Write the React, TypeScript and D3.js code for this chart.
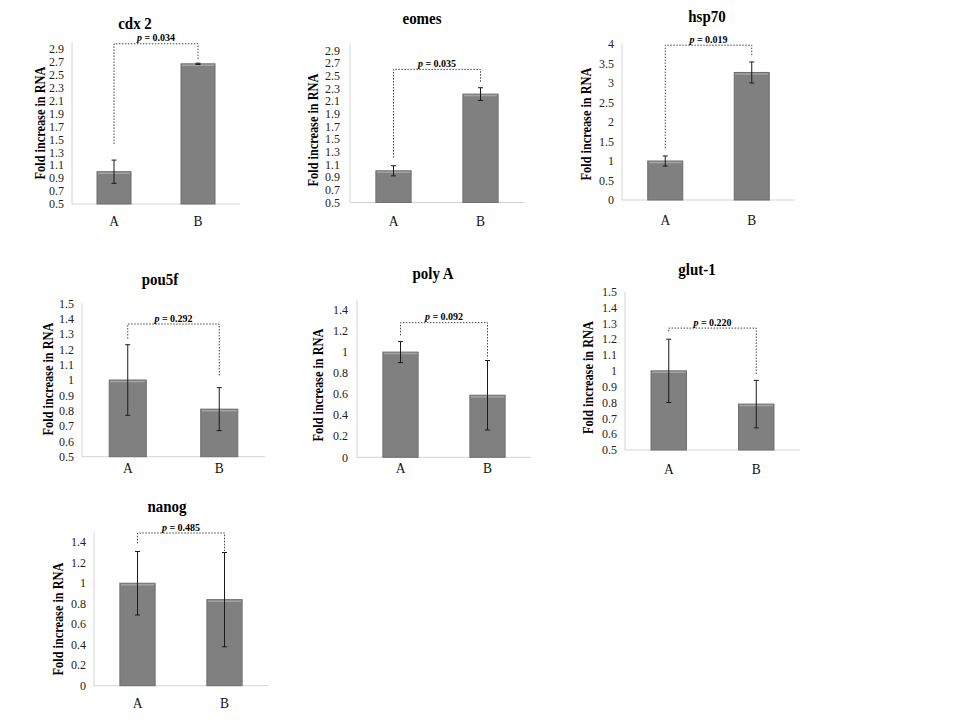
import React from 'react';
import * as d3 from 'd3';

// ---- data ----
const genes = ['cdx 2', 'eomes', 'hsp70', 'pou5f', 'poly A', 'glut-1', 'nanog'];
const groups = ['A', 'B'];
const meanA = [1.0, 1.0, 1.0, 1.0, 1.0, 1.0, 1.0];
const meanB = [2.67, 2.21, 3.27, 0.81, 0.59, 0.79, 0.84];
const errA = [0.18, 0.08, 0.13, 0.23, 0.1, 0.2, 0.31];
const errB = [0.01, 0.1, 0.27, 0.14, 0.33, 0.15, 0.46];
const pValues = ['0.034', '0.035', '0.019', '0.292', '0.092', '0.220', '0.485'];
// bracket: height of the dotted line, and where each leg stops (axis units)
const bracketTop = [2.98, 2.6, 3.97, 1.365, 1.28, 1.27, 1.49];
const bracketLegA = [1.43, 1.21, 1.33, 1.27, 1.16, 1.25, 1.39];
const bracketLegB = [2.73, 2.4, 3.67, 1.02, 0.94, 0.98, 1.315];
const yDomains: [number, number][] = [
  [0.5, 3.0], [0.5, 3.0], [0, 4], [0.5, 1.5], [0, 1.5], [0.5, 1.5], [0, 1.5],
];
const tickLabels = [
  ['0.5', '0.7', '0.9', '1.1', '1.3', '1.5', '1.7', '1.9', '2.1', '2.3', '2.5', '2.7', '2.9'],
  ['0.5', '0.7', '0.9', '1.1', '1.3', '1.5', '1.7', '1.9', '2.1', '2.3', '2.5', '2.7', '2.9'],
  ['0', '0.5', '1', '1.5', '2', '2.5', '3', '3.5', '4'],
  ['0.5', '0.6', '0.7', '0.8', '0.9', '1', '1.1', '1.2', '1.3', '1.4', '1.5'],
  ['0', '0.2', '0.4', '0.6', '0.8', '1', '1.2', '1.4'],
  ['0.5', '0.6', '0.7', '0.8', '0.9', '1', '1.1', '1.2', '1.3', '1.4', '1.5'],
  ['0', '0.2', '0.4', '0.6', '0.8', '1', '1.2', '1.4'],
];
const yTitle = 'Fold increase in RNA';

// ---- panel placement on the page (pixels) ----
interface Layout {
  x0: number; x1: number; yB: number; yT: number;
  titleX: number; titleY: number; catY: number;
  yTitleX: number; yTitleY: number; gap: number;
}
const layouts: Layout[] = [
  { x0: 72, x1: 240, yB: 204, yT: 42.5, titleX: 135, titleY: 29, catY: 225.5, yTitleX: 45, yTitleY: 123, gap: 8 },
  { x0: 350, x1: 524, yB: 202.5, yT: 44, titleX: 422, titleY: 23.5, catY: 226, yTitleX: 317.5, yTitleY: 130, gap: 10 },
  { x0: 622, x1: 795, yB: 200, yT: 44, titleX: 707, titleY: 21.5, catY: 225, yTitleX: 591, yTitleY: 124, gap: 8 },
  { x0: 82, x1: 265, yB: 456.7, yT: 303.3, titleX: 160, titleY: 285, catY: 473, yTitleX: 52.5, yTitleY: 379, gap: 8 },
  { x0: 357, x1: 531, yB: 457.3, yT: 299.5, titleX: 433, titleY: 279, catY: 473, yTitleX: 322.5, yTitleY: 385, gap: 9 },
  { x0: 625, x1: 800, yB: 450, yT: 291.7, titleX: 697, titleY: 275, catY: 474, yTitleX: 592.5, yTitleY: 377.5, gap: 8 },
  { x0: 94, x1: 268, yB: 685.7, yT: 532, titleX: 167, titleY: 512, catY: 708, yTitleX: 63, yTitleY: 619, gap: 8 },
];

const SERIF = "'Liberation Serif', 'Times New Roman', serif";

function Panel( { i }: { i: number } ) {
  const L = layouts[ i ];
  const x = d3.scaleBand<string>()
    .domain( groups )
    .range( [ L.x0, L.x1 ] )
    .paddingInner( 0.595 )
    .paddingOuter( 0.2975 );
  const y = d3.scaleLinear().domain( yDomains[ i ] ).range( [ L.yB, L.yT ] );
  const bw = x.bandwidth();

  const bars = [
    { g: groups[ 0 ], v: meanA[ i ], e: errA[ i ] },
    { g: groups[ 1 ], v: meanB[ i ], e: errB[ i ] },
  ];
  const cx = ( g: string ) => ( x( g ) || 0 ) + bw / 2;
  const xa = cx( groups[ 0 ] );
  const xb = cx( groups[ 1 ] );
  const by = y( bracketTop[ i ] );

  return (
    <g>
      {/* title */}
      <text
        transform={ `translate(${ L.titleX },${ L.titleY }) scale(0.88,1)` }
        textAnchor="middle"
        fontFamily={ SERIF }
        fontWeight="bold"
        fontSize={ 17 }
        fill="#000"
      >
        { genes[ i ] }
      </text>

      {/* axes */}
      <line x1={ L.x0 } x2={ L.x0 } y1={ L.yT } y2={ L.yB } stroke="#d4d4d4" strokeWidth={ 1 } />
      <line x1={ L.x0 } x2={ L.x1 } y1={ L.yB } y2={ L.yB } stroke="#d4d4d4" strokeWidth={ 1 } />

      { tickLabels[ i ].map( t => (
        <text
          key={ t }
          x={ L.x0 - L.gap }
          y={ y( +t ) }
          dy="0.35em"
          textAnchor="end"
          fontFamily={ SERIF }
          fontSize={ 12 }
          fill="#222"
        >
          { t }
        </text>
      ) ) }

      {/* y title */}
      <text
        transform={ `translate(${ L.yTitleX },${ L.yTitleY }) rotate(-90) scale(0.82,1)` }
        textAnchor="middle"
        fontFamily={ SERIF }
        fontWeight="bold"
        fontSize={ 15 }
        fill="#000"
      >
        { yTitle }
      </text>

      {/* bars */}
      { bars.map( b => {
        const top = y( b.v );
        const left = x( b.g ) || 0;
        return (
          <g key={ b.g }>
            <rect
              x={ left }
              y={ top }
              width={ bw }
              height={ L.yB - top }
              fill="#808080"
              stroke="#6e6e6e"
              strokeWidth={ 1 }
            />
            <line x1={ left + 1 } x2={ left + bw - 1 } y1={ top + 1.5 } y2={ top + 1.5 } stroke="#a3a3a3" strokeWidth={ 1.5 } />
          </g>
        );
      } ) }

      {/* error bars */}
      { bars.map( b => {
        const c = cx( b.g );
        const hi = y( b.v + b.e );
        const lo = y( b.v - b.e );
        return (
          <g key={ b.g } stroke="#1a1a1a" strokeWidth={ 1 }>
            <line x1={ c } x2={ c } y1={ hi } y2={ lo } />
            <line x1={ c - 2.5 } x2={ c + 2.5 } y1={ hi } y2={ hi } />
            <line x1={ c - 2.5 } x2={ c + 2.5 } y1={ lo } y2={ lo } />
          </g>
        );
      } ) }

      {/* significance bracket */}
      <path
        d={ `M${ xa },${ y( bracketLegA[ i ] ) }V${ by }H${ xb }V${ y( bracketLegB[ i ] ) }` }
        fill="none"
        stroke="#444"
        strokeWidth={ 1 }
        strokeDasharray="1.5,1.5"
      />
      <text
        x={ ( xa + xb ) / 2 }
        y={ by - 2.5 }
        textAnchor="middle"
        fontFamily={ SERIF }
        fontWeight="bold"
        fontSize={ 10 }
        fill="#000"
      >
        <tspan fontStyle="italic">p</tspan> = { pValues[ i ] }
      </text>

      {/* category labels */}
      { groups.map( g => (
        <text
          key={ g }
          transform={ `translate(${ cx( g ) },${ L.catY }) scale(0.9,1)` }
          textAnchor="middle"
          fontFamily={ SERIF }
          fontSize={ 15 }
          fill="#111"
        >
          { g }
        </text>
      ) ) }
    </g>
  );
}

export default function App() {
  return (
    <div style={ { position: 'absolute', left: 0, top: 0, width: 960, height: 720, background: '#fff' } }>
      <svg width={ 960 } height={ 720 } viewBox="0 0 960 720" style={ { display: 'block' } }>
        <rect width={ 960 } height={ 720 } fill="#fff" />
        { genes.map( ( _, i ) => <Panel key={ i } i={ i } /> ) }
      </svg>
    </div>
  );
}
